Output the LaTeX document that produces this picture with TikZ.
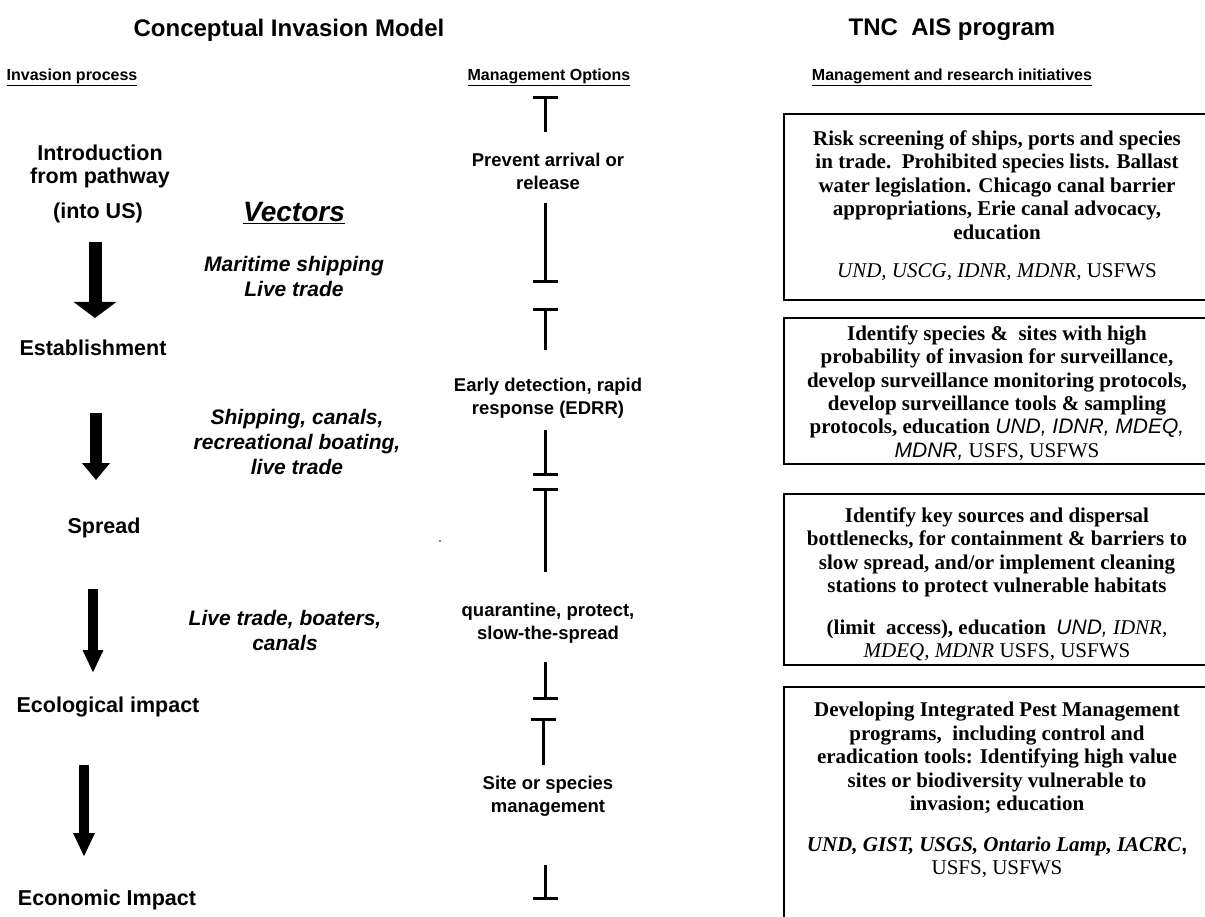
\documentclass[tikz,border=0pt]{standalone}
\usepackage{fontspec}
\setmainfont{Liberation Serif}
\setsansfont{Liberation Sans}
\usetikzlibrary{arrows.meta,positioning}

\tikzset{
  bigtitle/.style={font=\sffamily\bfseries\fontsize{24}{28}\selectfont},
  colhead/.style={font=\sffamily\bfseries\fontsize{16}{19}\selectfont},
  stage/.style={font=\sffamily\bfseries\fontsize{21.5}{23}\selectfont, align=center, inner sep=0pt},
  vector/.style={font=\sffamily\bfseries\itshape\fontsize{21}{25}\selectfont, align=center, inner sep=0pt},
  option/.style={font=\sffamily\bfseries\fontsize{18.5}{23}\selectfont, align=center, inner sep=0pt},
  initiative/.style={font=\bfseries\fontsize{21}{23.4}\selectfont, align=center, inner sep=0pt},
  agency/.style={font=\fontsize{21}{23}\selectfont, align=center, inner sep=0pt},
  initbox/.style={line width=1.3pt},
  blockarrow/.style n args={3}{line width=#1, -{Triangle[width=#2 0, length=#3 0]}},
  stem/.style={line width=3pt},
  stopbar/.style={stem, {Bar[width=25pt 0]}-},
  stopbarend/.style={stem, -{Bar[width=25pt 0]}},
}

\begin{document}
\begin{tikzpicture}[x=1pt, y=-1pt]
\useasboundingbox (0,0) rectangle (1205,917);

% headings
\node[bigtitle] (model) at (289,30) {Conceptual Invasion Model};
\node[bigtitle] (tnc) at (952,30) {TNC\ \ AIS program};
\node[colhead] (process) at (72,77) {\underline{Invasion process}};
\node[colhead] (options) at (549,77) {\underline{Management Options}};
\node[colhead] (initiatives) at (952,77) {\underline{Management and research initiatives}};

% invasion process
\node[stage] (intro) at (100,166) {Introduction\\from pathway};
\node[stage] (intous) at (98,213) {(into US)};
\node[stage] (estab) at (93,348) {Establishment};
\node[stage] (spread) at (104,528) {Spread};
\node[stage] (ecol) at (108,707) {Ecological impact};
\node[stage] (econ) at (107,900) {Economic Impact};

\coordinate (a1s) at (95,242);  \coordinate (a1e) at (95,318);
\coordinate (a2s) at (96,413);  \coordinate (a2e) at (96,480);
\coordinate (a3s) at (93,589);  \coordinate (a3e) at (93,673);
\coordinate (a4s) at (84,765);  \coordinate (a4e) at (84,857);
\draw[blockarrow={13pt}{42pt}{16pt}] (a1s) -- (a1e);
\draw[blockarrow={12pt}{27pt}{17pt}] (a2s) -- (a2e);
\draw[blockarrow={10pt}{19pt}{23pt}] (a3s) -- (a3e);
\draw[blockarrow={10pt}{20pt}{24pt}] (a4s) -- (a4e);

% vectors
\node[vector, font=\sffamily\bfseries\itshape\fontsize{28}{30}\selectfont] (vectors) at (294,213) {\underline{Vectors}};
\node[vector] (maritime) at (294,276.5) {Maritime shipping\\Live trade};
\node[vector] (shipping) at (297,442) {Shipping, canals,\\recreational boating,\\live trade};
\node[vector] (boaters) at (285,630) {Live trade, boaters,\\canals};
\fill (440,541) circle (0.8pt);

% management options
\node[option] (prevent) at (548,171.5) {Prevent arrival or\\release};
\node[option] (edrr) at (548,398.5) {Early detection, rapid\\response (EDRR)};
\node[option] (quarantine) at (548,623.5) {quarantine, protect,\\slow-the-spread};
\node[option] (site) at (548,796.5) {Site or species\\management};

\coordinate (p1) at (545,96);  \coordinate (p2) at (545,132);
\coordinate (p3) at (545,203); \coordinate (p4) at (545,283);
\coordinate (e1) at (545,308); \coordinate (e2) at (545,350);
\coordinate (e3) at (545,430); \coordinate (e4) at (545,476);
\coordinate (q1) at (545,488); \coordinate (q2) at (545,572);
\coordinate (q3) at (545,662); \coordinate (q4) at (545,700);
\coordinate (s1) at (543,718); \coordinate (s2) at (543,765);
\coordinate (s3) at (545,865); \coordinate (s4) at (545,900);
\draw[stopbar] (p1) -- (p2);  \draw[stopbarend] (p3) -- (p4);
\draw[stopbar] (e1) -- (e2);  \draw[stopbarend] (e3) -- (e4);
\draw[stopbar] (q1) -- (q2);  \draw[stopbarend] (q3) -- (q4);
\draw[stopbar] (s1) -- (s2);  \draw[stopbarend] (s3) -- (s4);

% initiatives
\draw[initbox] (784,114) rectangle (1215,300);
\node[initiative] (risk) at (997,185) {Risk screening of ships, ports and species\\in trade.\ \ Prohibited species lists. Ballast\\water legislation. Chicago canal barrier\\appropriations, Erie canal advocacy,\\education};
\node[agency] (riskwho) at (997,272) {{\itshape UND, USCG, IDNR, MDNR,} USFWS};

\draw[initbox] (784,318) rectangle (1215,464);
\node[initiative] (surveil) at (997,393) {Identify species \&\ \ sites with high\\probability of invasion for surveillance,\\develop surveillance monitoring protocols,\\develop surveillance tools \& sampling\\protocols, education {\mdseries\sffamily\itshape UND, IDNR, MDEQ,}\\{\mdseries\sffamily\itshape MDNR,} {\mdseries USFS, USFWS}};

\draw[initbox] (784,494) rectangle (1215,665);
\node[initiative] (contain) at (997,552.5) {Identify key sources and dispersal\\bottlenecks, for containment \& barriers to\\slow spread, and/or implement cleaning\\stations to protect vulnerable habitats};
\node[initiative] (containwho) at (997,640.5) {(limit\ \ access), education\ \ {\mdseries\sffamily\itshape UND,} {\mdseries\itshape IDNR,}\\{\mdseries\itshape MDEQ, MDNR} {\mdseries USFS, USFWS}};

\draw[initbox] (784,687) rectangle (1215,935);
\node[initiative] (pest) at (997,758) {Developing Integrated Pest Management\\programs,\ \ including control and\\eradication tools: Identifying high value\\sites or biodiversity vulnerable to\\invasion; education};
\node[agency] (pestwho) at (997,857) {{\bfseries\itshape UND, GIST, USGS, Ontario Lamp, IACRC}{\sffamily\bfseries ,}\\USFS, USFWS};
\end{tikzpicture}
\end{document}
